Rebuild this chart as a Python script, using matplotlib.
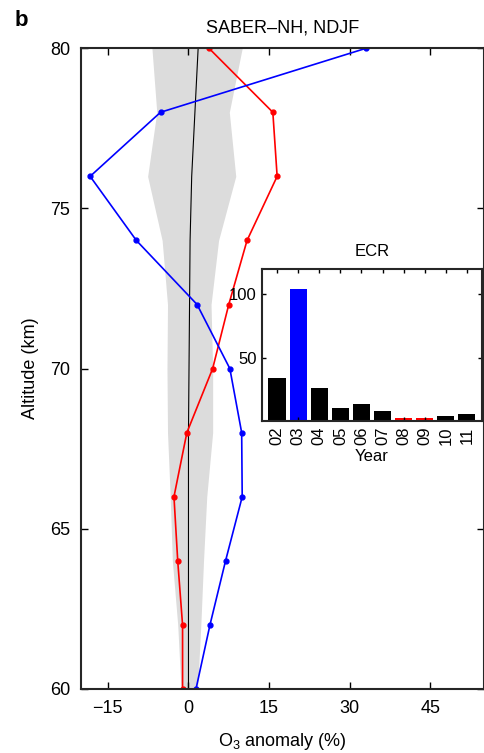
import numpy as np
import matplotlib
matplotlib.use("Agg")
import matplotlib.pyplot as plt

plt.rcParams['font.family'] = ['Liberation Sans', 'DejaVu Sans']
plt.rcParams['mathtext.fontset'] = 'custom'
plt.rcParams['mathtext.rm'] = 'Liberation Sans'
plt.rcParams['mathtext.default'] = 'regular'

# profile data (altitude in km, anomaly in %)
altitude = [80, 78, 76, 74, 72, 70, 68, 66, 64, 62, 60]
anom_2003 = [33.1, -5.2, -18.3, -9.7, 1.6, 7.7, 9.9, 10.0, 6.9, 4.0, 1.4]
anom_0809 = [3.8, 15.7, 16.5, 10.9, 7.5, 4.5, -0.3, -2.7, -2.0, -1.1, -1.1]
mean_line = [1.8, 1.2, 0.6, 0.3, 0.2, 0.1, 0.0, 0.0, 0.0, 0.0, 0.0]
band_low = [-6.8, -5.9, -7.6, -4.9, -3.9, -4.0, -3.9, -3.4, -3.0, -2.0, -1.4]
band_high = [10.0, 7.6, 8.8, 5.6, 4.2, 4.5, 4.5, 3.4, 2.8, 2.3, 1.7]

# inset: ECR per year
years = ['02', '03', '04', '05', '06', '07', '08', '09', '10', '11']
ecr = [33.7, 104.3, 25.8, 10.0, 13.2, 7.9, 2.1, 2.1, 3.9, 5.3]
bar_colors = ['black', 'blue', 'black', 'black', 'black', 'black',
              'red', 'red', 'black', 'black']

fig = plt.figure(figsize=(4.85, 7.53), dpi=100)
ax = fig.add_axes([0.167, 0.085, 0.831, 0.851])

ax.fill_betweenx(altitude, band_low, band_high, color='#dcdcdc', lw=0)
ax.plot(mean_line, altitude, color='black', lw=0.8)
ax.plot(anom_0809, altitude, color='red', lw=1.2, marker='o', ms=3.5)
ax.plot(anom_2003, altitude, color='blue', lw=1.2, marker='o', ms=3.5)

ax.set_xlim(-20, 55)
ax.set_ylim(60, 80)
ax.set_xticks([-15, 0, 15, 30, 45])
ax.set_yticks([60, 65, 70, 75, 80])
ax.tick_params(direction='in', top=True, right=True, labelsize=13,
               length=5, width=1, pad=8)
for s in ax.spines.values():
    s.set_linewidth(1.5)
    s.set_color('#262626')
ax.set_xlabel(r'O$_3$ anomaly (%)', fontsize=13, labelpad=10)
ax.set_ylabel('Altitude (km)', fontsize=13, labelpad=8)
ax.set_title('SABER\u2013NH, NDJF', fontsize=13, pad=11)
fig.text(0.03, 0.965, 'b', fontsize=16, fontweight='bold')

# inset bar chart
ins = fig.add_axes([0.541, 0.441, 0.452, 0.202])
x = np.arange(1, len(years) + 1)
ins.bar(x, ecr, width=0.82, color=bar_colors, edgecolor='none')
ins.set_xlim(0.3, 10.7)
ins.set_ylim(0, 120)
ins.set_xticks(x)
ins.set_xticklabels(years, rotation=90)
ins.set_yticks([50, 100])
ins.tick_params(direction='in', top=True, right=True, labelsize=12,
                length=3, width=1, pad=4)
for s in ins.spines.values():
    s.set_linewidth(1.5)
    s.set_color('#262626')
ins.set_xlabel('Year', fontsize=12, labelpad=3)
ins.set_title('ECR', fontsize=12, pad=9)

fig.savefig('out.png', dpi=100)
